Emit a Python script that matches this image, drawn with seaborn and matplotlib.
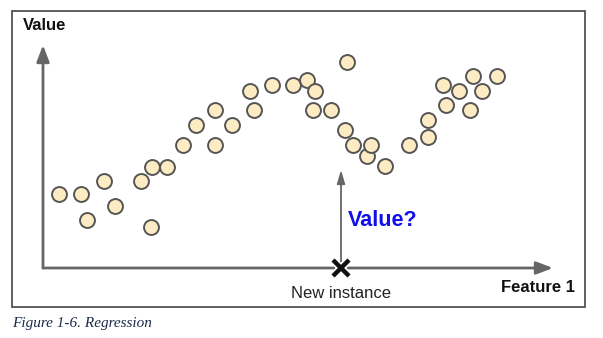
import matplotlib
matplotlib.use("Agg")
import matplotlib.pyplot as plt
from matplotlib.patches import Rectangle, FancyArrowPatch
import seaborn as sns
import pandas as pd

# Data (feature, value)
feature = [1.6, 3.8, 4.4, 6.1, 7.2, 9.8, 10.8, 10.9, 12.4, 14.0, 15.3, 17.2, 17.2,
           18.9, 20.7, 21.1, 22.9, 25.0, 26.4, 27.2, 27.0, 28.8, 30.4, 30.2, 31.0,
           32.4, 32.8, 34.2, 36.6, 38.5, 38.5, 40.0, 40.3, 41.6, 42.7, 43.0, 43.9, 45.4]
value = [7.4, 7.4, 4.8, 8.7, 6.2, 8.7, 4.1, 10.1, 10.1, 12.3, 14.3, 12.3, 15.8,
         14.3, 17.7, 15.8, 18.3, 18.3, 18.8, 17.7, 15.8, 15.8, 20.6, 13.8, 12.3,
         11.2, 12.3, 10.2, 12.3, 13.1, 14.8, 18.3, 16.3, 17.7, 15.8, 19.2, 17.7, 19.2]
new_instance_x = 29.8
new_instance_pred = 9.8

df = pd.DataFrame({"Feature 1": feature, "Value": value})

sns.set_theme(style="white")
plt.rcParams['font.family'] = ['Liberation Sans', 'DejaVu Sans']

fig = plt.figure(figsize=(6.03, 3.38), dpi=100)
ax = fig.add_axes([0, 0, 1, 1])
ax.set_xlim(-4.3, 56.0)
ax.set_ylim(-7.0, 26.8)
ax.axis("off")

# frame
ax.add_patch(Rectangle((-3.1, -3.9), 57.3, 29.6, fill=False, edgecolor="#444444",
                       linewidth=1.2, zorder=1))

# axes arrows
big_head = "-|>,head_length=1.0,head_width=0.38"
ax.add_patch(FancyArrowPatch((0, 0), (0, 22.3), arrowstyle=big_head,
                             mutation_scale=10, color="#666666", linewidth=2.0, zorder=2,
                             shrinkA=0, shrinkB=0))
ax.add_patch(FancyArrowPatch((0, 0), (51.0, 0), arrowstyle=big_head,
                             mutation_scale=10, color="#666666", linewidth=2.0, zorder=2,
                             shrinkA=0, shrinkB=0))
# prediction arrow
ax.add_patch(FancyArrowPatch((new_instance_x, 0), (new_instance_x, new_instance_pred),
                             arrowstyle="-|>,head_length=0.8,head_width=0.24",
                             mutation_scale=10, color="#666666", linewidth=1.3, zorder=2,
                             shrinkA=0, shrinkB=0))

sns.scatterplot(data=df, x="Feature 1", y="Value", ax=ax, s=115, color="#FDEBC3",
                edgecolor="#555555", linewidth=1.4, zorder=3, legend=False)

ax.plot([new_instance_x], [0], marker="x", markersize=13, markeredgewidth=5.5,
        color="white", zorder=4)
ax.plot([new_instance_x], [0], marker="x", markersize=12, markeredgewidth=3.2,
        color="#111111", zorder=5)

ax.text(-2.0, 24.3, "Value", fontsize=12, fontweight="bold", color="#111111",
        ha="left", va="center")
ax.text(53.2, -1.9, "Feature 1", fontsize=12, fontweight="bold", color="#111111",
        ha="right", va="center")
ax.text(30.5, 4.7, "Value?", fontsize=15.5, fontweight="bold", color="#1010E8",
        ha="left", va="center")
ax.text(new_instance_x, -2.6, "New instance", fontsize=12, color="#222222",
        ha="center", va="center")

fig.text(12 / 603, 1 - 323 / 338, "Figure 1-6. Regression", fontsize=11,
         family=["Liberation Serif", "DejaVu Serif"], style="italic", color="#1A2A4A",
         ha="left", va="center")

fig.savefig("out.png", dpi=100, facecolor="white")
